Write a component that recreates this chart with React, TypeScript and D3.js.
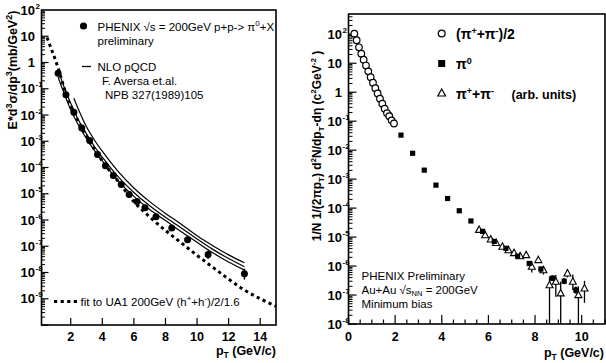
import React from "react";
import * as d3 from "d3";

// ---------- Left panel data (p+p -> pi0 + X) ----------
const ppPt = [1.2, 1.7, 2.2, 2.7, 3.2, 3.7, 4.2, 4.7, 5.2, 5.7, 6.2, 6.7, 7.4, 8.4, 9.4, 10.7, 13.0];
const ppVal = [0.39, 0.059, 0.0126, 3.2e-3, 1.07e-3, 3.1e-4, 1.17e-4, 5.0e-5, 2.24e-5, 9.3e-6, 5.1e-6, 2.9e-6, 1.32e-6, 5.0e-7, 1.78e-7, 4.8e-8, 8.9e-9];
const ppErrUp = [0, 0, 0, 0, 0, 0, 0, 0, 0, 0, 0, 0, 0, 0, 0, 0.02e-6, 5e-9];
const ppErrDn = [0, 0, 0, 0, 0, 0, 0, 0, 0, 0, 0, 0, 0, 0, 0, 0.015e-6, 3.5e-9];

const nloPt = [1.2, 1.5, 2, 2.5, 3, 3.5, 4, 5, 6, 7, 8, 9, 10, 11, 12, 13];
const nloLow = [0.28, 0.089, 0.0158, 3.98e-3, 1.26e-3, 4.47e-4, 1.78e-4, 3.16e-5, 7.94e-6, 2.51e-6, 9.5e-7, 3.55e-7, 1.41e-7, 5.6e-8, 2.5e-8, 1.23e-8];
const nloMid = [0.56, 0.158, 0.0282, 6.3e-3, 1.9e-3, 6.3e-4, 2.51e-4, 4.47e-5, 1.12e-5, 3.47e-6, 1.26e-6, 5.0e-7, 1.9e-7, 7.6e-8, 3.4e-8, 1.66e-8];
const nloUpPt = [2.2, 2.5, 3, 3.5, 4, 5, 6, 7, 8, 9, 10, 11, 12, 13];
const nloUp = [0.0437, 0.0158, 3.55e-3, 1.12e-3, 4.17e-4, 7.08e-5, 1.66e-5, 5.0e-6, 1.78e-6, 6.9e-7, 2.51e-7, 1.05e-7, 4.7e-8, 2.34e-8];

const ua1Pt = [0.5, 0.75, 1, 1.25, 1.5, 1.75, 2, 2.5, 3, 3.5, 4, 4.5, 5, 6, 7, 8, 9, 10, 11, 12, 13, 14, 15];
const ua1Val = [8.9, 3.55, 1.41, 0.5, 0.158, 0.0525, 0.0224, 5.4e-3, 1.58e-3, 5.0e-4, 1.78e-4, 7.1e-5, 3.0e-5, 5.0e-6, 1.32e-6, 4.0e-7, 1.35e-7, 4.5e-8, 1.58e-8, 5.6e-9, 2.14e-9, 1.0e-9, 5.2e-10];

const leftXTicks = [2, 4, 6, 8, 10, 12, 14];

// ---------- Right panel data (Au+Au) ----------
const chPt = [0.25, 0.35, 0.45, 0.55, 0.65, 0.75, 0.85, 0.95, 1.05, 1.15, 1.25, 1.35, 1.45, 1.55, 1.65, 1.75, 1.85, 1.95];
const chVal = [105, 62, 35.5, 21.4, 13.2, 8.3, 5.25, 3.31, 2.14, 1.38, 0.91, 0.60, 0.40, 0.27, 0.19, 0.148, 0.107, 0.083];

const pi0Pt = [1.25, 1.75, 2.25, 2.75, 3.25, 3.75, 4.25, 4.75, 5.25, 5.75, 6.25, 6.75, 7.25, 7.75, 8.25, 8.75, 9.25, 9.75];
const pi0Val = [1.0, 0.162, 0.033, 7.8e-3, 2.04e-3, 6.2e-4, 2.14e-4, 8.1e-5, 3.6e-5, 1.58e-5, 7.1e-6, 4.1e-6, 2.2e-6, 1.23e-6, 7.9e-7, 3.8e-7, 3.0e-7, 1.48e-7];
const pi0ErrDec = [0.03, 0.04, 0.05, 0.05, 0.06, 0.06, 0.06, 0.06, 0.06, 0.06, 0.06, 0.07, 0.07, 0.08, 0.08, 0.1, 0.1, 0.12];

const trPt = [5.6, 5.86, 6.1, 6.33, 6.6, 6.86, 7.1, 7.36, 7.62, 7.86, 8.14, 8.36, 8.62, 8.89, 9.1, 9.39, 9.62, 9.86, 10.12];
const trVal = [1.78e-5, 1.17e-5, 8.3e-6, 6.3e-6, 4.7e-6, 3.55e-6, 2.82e-6, 2.19e-6, 2.4e-6, 9.5e-7, 1.62e-6, 7.2e-7, 2.19e-7, 2.9e-7, 1.15e-7, 5.6e-7, 2.9e-7, 1.0e-7, 1.7e-7];
const trErrUpDec = [0.05, 0.05, 0.06, 0.07, 0.08, 0.09, 0.1, 0.1, 0.1, 0.2, 0.1, 0.15, 0.3, 0.23, 0.4, 0.14, 0.25, 0.3, 0.26];
const trErrDnDec = [0.05, 0.05, 0.06, 0.07, 0.08, 0.09, 0.1, 0.1, 0.1, 0.2, 0.1, 0.15, 5, 0.52, 5, 0.14, 0.3, 5, 0.5];

const rightXTicks = [0, 2, 4, 6, 8, 10];

const FONT = "'Liberation Sans', Arial, Helvetica, sans-serif";

function decadeTicks(lo: number, hi: number) {
  const major: number[] = [];
  const minor: number[] = [];
  for (let e = lo; e <= hi; e++) {
    major.push(e);
    for (let m = 2; m <= 9; m++) minor.push(Math.pow(10, e) * m);
  }
  return { major, minor };
}

function YLabel({ x, y, e }: { x: number; y: number; e: number }) {
  if (e === 0)
    return (
      <text x={x} y={y + 4.5} textAnchor="end" fontWeight="bold" fontSize={13}>1</text>
    );
  return (
    <g>
      <text x={x} y={y + 4.5} textAnchor="end" fontWeight="bold" fontSize={13}>10</text>
      {e !== 1 && (
        <text x={x + 0.5} y={y - 1.5} fontWeight="bold" fontSize={8}>{String(e)}</text>
      )}
    </g>
  );
}

export default function App() {
  // Left scales
  const xL = d3.scaleLinear().domain([0.15, 15]).range([41.5, 276]);
  const yL = d3.scaleLog().domain([1e-10, 1e2]).range([325, 10]);
  // Right scales
  const xR = d3.scaleLinear().domain([0, 11]).range([348.5, 605]);
  const yR = d3.scaleLog().domain([1e-8, 500]).range([324, 14]);

  const lineL = (xs: number[], ys: number[]) =>
    d3.line<number>().x((_, i) => xL(xs[i])).y((v) => yL(v)).curve(d3.curveMonotoneX)(ys) || "";

  const lt = decadeTicks(-10, 1);
  const rt = decadeTicks(-8, 2);
  const leftMajorY = d3.range(-9, 3);
  const rightMajorY = d3.range(-8, 3);

  const L = { x0: 41.5, x1: 276, y0: 10, y1: 325 };
  const R = { x0: 348.5, x1: 605, y0: 14, y1: 324 };

  const rightMinorX = d3.range(0, 11.01, 0.5);

  return (
    <svg width={606} height={363} style={{ position: "absolute", left: 0, top: 0, background: "#fff" }} fontFamily={FONT}>
      <rect x={0} y={0} width={606} height={363} fill="#fff" />
      {/* ================= LEFT PANEL ================= */}
      <g>
        {lt.major.filter((e) => e >= -10 && e <= 2).map((e) => (
          <line key={"lm" + e} x1={L.x0} x2={L.x0 + 7} y1={yL(Math.pow(10, e))} y2={yL(Math.pow(10, e))} stroke="#000" strokeWidth={1.2} />
        ))}
        {lt.minor.filter((v) => v > 1e-10 && v < 1e2).map((v, i) => (
          <line key={"ln" + i} x1={L.x0} x2={L.x0 + 3.5} y1={yL(v)} y2={yL(v)} stroke="#000" strokeWidth={1} />
        ))}
        {leftMajorY.map((e) => (
          <YLabel key={"ly" + e} x={35} y={yL(Math.pow(10, e))} e={e} />
        ))}
        {leftXTicks.map((t) => (
          <g key={"lx" + t}>
            <line x1={xL(t)} x2={xL(t)} y1={L.y1} y2={L.y1 - 7} stroke="#000" strokeWidth={1.2} />
            <text x={xL(t)} y={341} textAnchor="middle" fontWeight="bold" fontSize={12.5}>{t}</text>
          </g>
        ))}
        <rect x={L.x0} y={L.y0} width={L.x1 - L.x0} height={L.y1 - L.y0} fill="none" stroke="#000" strokeWidth={1.6} />

        <path d={lineL(ua1Pt, ua1Val)} fill="none" stroke="#000" strokeWidth={3} strokeDasharray="3.2 3.4" />
        <path d={lineL(nloPt, nloLow)} fill="none" stroke="#000" strokeWidth={1.2} />
        <path d={lineL(nloPt, nloMid)} fill="none" stroke="#000" strokeWidth={1.2} />
        <path d={lineL(nloUpPt, nloUp)} fill="none" stroke="#000" strokeWidth={1.2} />
        {ppPt.map((p, i) => (
          <g key={"pp" + i}>
            {ppErrUp[i] > 0 && (
              <line x1={xL(p)} x2={xL(p)} y1={yL(ppVal[i] + ppErrUp[i])} y2={yL(ppVal[i] - ppErrDn[i])} stroke="#000" strokeWidth={1.5} />
            )}
            <circle cx={xL(p)} cy={yL(ppVal[i])} r={3.5} fill="#000" />
          </g>
        ))}

        <circle cx={83.5} cy={26} r={3.6} fill="#000" />
        <text x={97.5} y={31} fontSize={11.5}>
          PHENIX √s = 200GeV p+p-&gt; π<tspan dy={-5} fontSize={8}>0</tspan><tspan dy={5}>+X</tspan>
        </text>
        <text x={97.5} y={45} fontSize={11.5}>preliminary</text>
        <line x1={82} x2={91} y1={66.5} y2={66.5} stroke="#000" strokeWidth={1.3} />
        <text x={97.5} y={71} fontSize={11.5}>NLO pQCD</text>
        <text x={102} y={84.5} fontSize={11.5}>F. Aversa et.al.</text>
        <text x={105} y={99} fontSize={11.5}>NPB 327(1989)105</text>

        <line x1={54} x2={77} y1={301.5} y2={301.5} stroke="#000" strokeWidth={3} strokeDasharray="3.2 3.4" />
        <text x={80.5} y={306} fontSize={11.5}>
          fit to UA1 200GeV (h<tspan dy={-5} fontSize={8}>+</tspan><tspan dy={5}>+h</tspan>
          <tspan dy={-5} fontSize={8}>-</tspan><tspan dy={5}>)/2/1.6</tspan>
        </text>

        <text x={276} y={355} textAnchor="end" fontWeight="bold" fontSize={12.5}>
          p<tspan dy={3} fontSize={8.5}>T</tspan><tspan dy={-3}> (GeV/c)</tspan>
        </text>
        <text transform="translate(17,70) rotate(-90)" textAnchor="middle" fontWeight="bold" fontSize={12.5}>
          E*d<tspan dy={-5} fontSize={9}>3</tspan><tspan dy={5}>σ/dp</tspan><tspan dy={-5} fontSize={9}>3</tspan>
          <tspan dy={5}>(mb/GeV</tspan><tspan dy={-5} fontSize={9}>2</tspan><tspan dy={5}>)</tspan>
        </text>
      </g>

      {/* ================= RIGHT PANEL ================= */}
      <g>
        {rt.major.filter((e) => e >= -8 && e <= 2).map((e) => (
          <line key={"rm" + e} x1={R.x0} x2={R.x0 + 8} y1={yR(Math.pow(10, e))} y2={yR(Math.pow(10, e))} stroke="#000" strokeWidth={1.2} />
        ))}
        {rt.minor.filter((v) => v > 1e-8 && v < 500).map((v, i) => (
          <line key={"rn" + i} x1={R.x0} x2={R.x0 + 4} y1={yR(v)} y2={yR(v)} stroke="#000" strokeWidth={1} />
        ))}
        {rightMajorY.map((e) => (
          <YLabel key={"ry" + e} x={342} y={yR(Math.pow(10, e))} e={e} />
        ))}
        {rightMinorX.map((t, i) => (
          <line key={"rxm" + i} x1={xR(t)} x2={xR(t)} y1={R.y1} y2={R.y1 - (t % 2 === 0 ? 9 : 4.5)} stroke="#000" strokeWidth={1.2} />
        ))}
        {rightXTicks.map((t) => (
          <text key={"rx" + t} x={xR(t)} y={341} textAnchor="middle" fontWeight="bold" fontSize={12.5}>{t}</text>
        ))}
        <rect x={R.x0} y={R.y0} width={R.x1 - R.x0} height={R.y1 - R.y0} fill="none" stroke="#000" strokeWidth={1.6} />

        {trPt.map((p, i) => {
          const cx = xR(p);
          const cy = yR(trVal[i]);
          const up = yR(trVal[i] * Math.pow(10, trErrUpDec[i]));
          const dn = Math.min(R.y1, yR(Math.max(1e-9, trVal[i] / Math.pow(10, trErrDnDec[i]))));
          return (
            <g key={"tr" + i}>
              <line x1={cx} x2={cx} y1={up} y2={dn} stroke="#000" strokeWidth={1.3} />
              <path d={`M${cx},${cy - 3.8} L${cx + 3.5},${cy + 2.6} L${cx - 3.5},${cy + 2.6} Z`} fill="#fff" stroke="#000" strokeWidth={1.1} />
            </g>
          );
        })}
        {pi0Pt.map((p, i) => {
          const cx = xR(p);
          const cy = yR(pi0Val[i]);
          return (
            <g key={"p0" + i}>
              <line x1={cx} x2={cx} y1={yR(pi0Val[i] * Math.pow(10, pi0ErrDec[i]))} y2={yR(pi0Val[i] / Math.pow(10, pi0ErrDec[i]))} stroke="#000" strokeWidth={2.5} />
              <rect x={cx - 2.6} y={cy - 2.6} width={5.2} height={5.2} fill="#000" />
            </g>
          );
        })}
        {chPt.map((p, i) => (
          <circle key={"ch" + i} cx={xR(p)} cy={yR(chVal[i])} r={3.3} fill="#fff" stroke="#000" strokeWidth={1.2} />
        ))}

        <circle cx={441.7} cy={33.5} r={3.4} fill="#fff" stroke="#000" strokeWidth={1.3} />
        <text x={456} y={38.5} fontWeight="bold" fontSize={14}>
          (π<tspan dy={-5} fontSize={9}>+</tspan><tspan dy={5}>+π</tspan><tspan dy={-5} fontSize={9}>-</tspan><tspan dy={5}>)/2</tspan>
        </text>
        <rect x={438.2} y={60} width={7} height={7} fill="#000" />
        <text x={456} y={68.5} fontWeight="bold" fontSize={14}>
          π<tspan dy={-5} fontSize={9}>0</tspan>
        </text>
        <path d="M441.7,89 L445.6,96 L437.8,96 Z" fill="#fff" stroke="#000" strokeWidth={1.2} />
        <text x={456} y={98.5} fontWeight="bold" fontSize={14}>
          π<tspan dy={-5} fontSize={9}>+</tspan><tspan dy={5}>+π</tspan><tspan dy={-5} fontSize={9}>-</tspan>
        </text>
        <text x={511.5} y={98.5} fontWeight="bold" fontSize={12.5}>(arb. units)</text>

        <text x={361.5} y={280} fontSize={11.5}>PHENIX Preliminary</text>
        <text x={361.5} y={293.5} fontSize={11.5}>
          Au+Au √s<tspan dy={2.5} fontSize={7.5}>NN</tspan><tspan dy={-2.5}> = 200GeV</tspan>
        </text>
        <text x={361.5} y={307.5} fontSize={11.5}>Minimum bias</text>

        <text x={604} y={357} textAnchor="end" fontWeight="bold" fontSize={12.5}>
          p<tspan dy={3} fontSize={8.5}>T</tspan><tspan dy={-3}> (GeV/c)</tspan>
        </text>
        <text transform="translate(321,146) rotate(-90)" textAnchor="middle" fontWeight="bold" fontSize={12}>
          1/N 1/(2πp<tspan dy={3} fontSize={8}>T</tspan><tspan dy={-3}>) d</tspan><tspan dy={-5} fontSize={8}>2</tspan>
          <tspan dy={5}>N/dp</tspan><tspan dy={3} fontSize={8}>T</tspan><tspan dy={-3}>-dη  (c</tspan>
          <tspan dy={-5} fontSize={8}>2</tspan><tspan dy={5}>GeV</tspan><tspan dy={-5} fontSize={8}>-2</tspan><tspan dy={5}> )</tspan>
        </text>
      </g>
    </svg>
  );
}
